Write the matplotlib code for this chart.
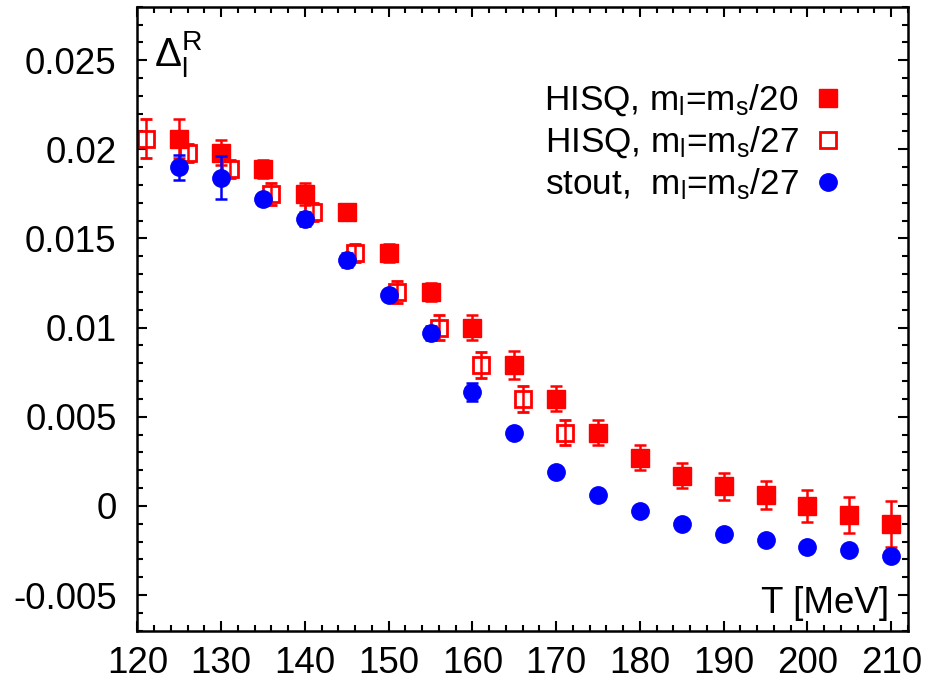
import numpy as np
import matplotlib
matplotlib.use("Agg")
import matplotlib.pyplot as plt
from matplotlib.lines import Line2D
from matplotlib.ticker import MultipleLocator, FuncFormatter

plt.rcParams['font.family'] = ['Liberation Sans', 'DejaVu Sans']
plt.rcParams['mathtext.fontset'] = 'custom'
plt.rcParams['mathtext.rm'] = 'Liberation Sans'
plt.rcParams['mathtext.it'] = 'Liberation Sans'
plt.rcParams['mathtext.default'] = 'regular'
plt.rcParams['axes.unicode_minus'] = False

# HISQ, ml = ms/20
T_h20 = [125, 130, 135, 140, 145, 150, 155, 160, 165, 170, 175, 180, 185, 190, 195, 200, 205, 210]
d_h20 = [0.0206, 0.0198, 0.0189, 0.0175, 0.0165, 0.0142, 0.0120, 0.0100, 0.0079, 0.0060,
         0.0041, 0.0027, 0.0017, 0.0011, 0.0006, 0.0000, -0.0005, -0.0010]
e_h20 = [0.0011, 0.0007, 0.0005, 0.0006, 0.0003, 0.0005, 0.0005, 0.0007, 0.0008, 0.0007,
         0.0007, 0.0007, 0.0007, 0.00075, 0.0008, 0.0009, 0.0010, 0.0013]

# HISQ, ml = ms/27
T_h27 = [121, 126, 131, 136, 141, 146, 151, 156, 161, 166, 171]
d_h27 = [0.0206, 0.0198, 0.0189, 0.0175, 0.0165, 0.0142, 0.0120, 0.0100, 0.0079, 0.0060, 0.0041]
e_h27 = [0.0011, 0.0005, 0.0005, 0.0006, 0.0005, 0.0005, 0.0006, 0.0007, 0.00075, 0.00075, 0.0007]

# stout, ml = ms/27
T_st = [125, 130, 135, 140, 145, 150, 155, 160, 165, 170, 175, 180, 185, 190, 195, 200, 205, 210]
d_st = [0.0190, 0.0184, 0.0172, 0.0161, 0.0138, 0.0118, 0.0097, 0.0064, 0.0041, 0.0019,
        0.0006, -0.0003, -0.0010, -0.0016, -0.0019, -0.0023, -0.0025, -0.0028]
e_st = [0.0007, 0.0012, 0.0003, 0.0004, 0.0004, 0.0002, 0.0004, 0.0005, 0.0002, 0.0003,
        0.0002, 0.0002, 0.0002, 0.0002, 0.0002, 0.0002, 0.0002, 0.0002]

labels = [r"HISQ, m$_l$=m$_s$/20", r"HISQ, m$_l$=m$_s$/27", r"stout,  m$_l$=m$_s$/27"]

fs = 26.5

fig = plt.figure(figsize=(9.3, 6.81), dpi=100)
ax = fig.add_axes([0.1478, 0.0739, 0.9763 - 0.1478, 0.9902 - 0.0739])

err_kw = dict(linestyle='none', elinewidth=1.8, capsize=4.5, capthick=1.8)
ax.errorbar(T_st, d_st, yerr=e_st, fmt='o', color='#0000ff', ms=12.5, zorder=3, **err_kw)
ax.errorbar(T_h27, d_h27, yerr=e_h27, fmt='s', color='#ff0000', mfc='none', mew=2.0,
            ms=11.5, zorder=2, **err_kw)
ax.errorbar(T_h20, d_h20, yerr=e_h20, fmt='s', color='#ff0000', ms=12.5, zorder=2, **err_kw)

ax.set_xlim(120, 212)
ax.set_ylim(-0.007, 0.028)
ax.xaxis.set_major_locator(MultipleLocator(10))
ax.xaxis.set_minor_locator(MultipleLocator(2))
ax.yaxis.set_major_locator(MultipleLocator(0.005))
ax.yaxis.set_minor_locator(MultipleLocator(0.001))
ax.yaxis.set_major_formatter(FuncFormatter(lambda v, p: "0" if abs(v) < 1e-12 else f"{v:g}"))

ax.tick_params(which='both', direction='in', top=True, right=True, width=1.5, labelsize=fs)
ax.tick_params(which='major', length=7.5)
ax.tick_params(which='minor', length=4)
ax.tick_params(axis='y', pad=15)
ax.tick_params(axis='x', pad=11)
for s in ax.spines.values():
    s.set_linewidth(1.8)

ax.text(0.022, 0.965, r"$\Delta_l^R$", transform=ax.transAxes, fontsize=29, va='top', ha='left')
ax.text(0.975, 0.015, "T [MeV]", transform=ax.transAxes, fontsize=fs, va='bottom', ha='right')

handles = [
    Line2D([], [], ls='none', marker='s', color='#ff0000', ms=12.5),
    Line2D([], [], ls='none', marker='s', color='#ff0000', mfc='none', mew=2.0, ms=11.5),
    Line2D([], [], ls='none', marker='o', color='#0000ff', ms=12.5),
]
ax.legend(handles, labels, loc='upper right', bbox_to_anchor=(0.915, 0.878), frameon=False,
          markerfirst=False, fontsize=25.3, handlelength=0.8, handletextpad=0.45,
          labelspacing=0.18, borderpad=0.0, borderaxespad=0.0)

fig.savefig("out.png", dpi=100)
